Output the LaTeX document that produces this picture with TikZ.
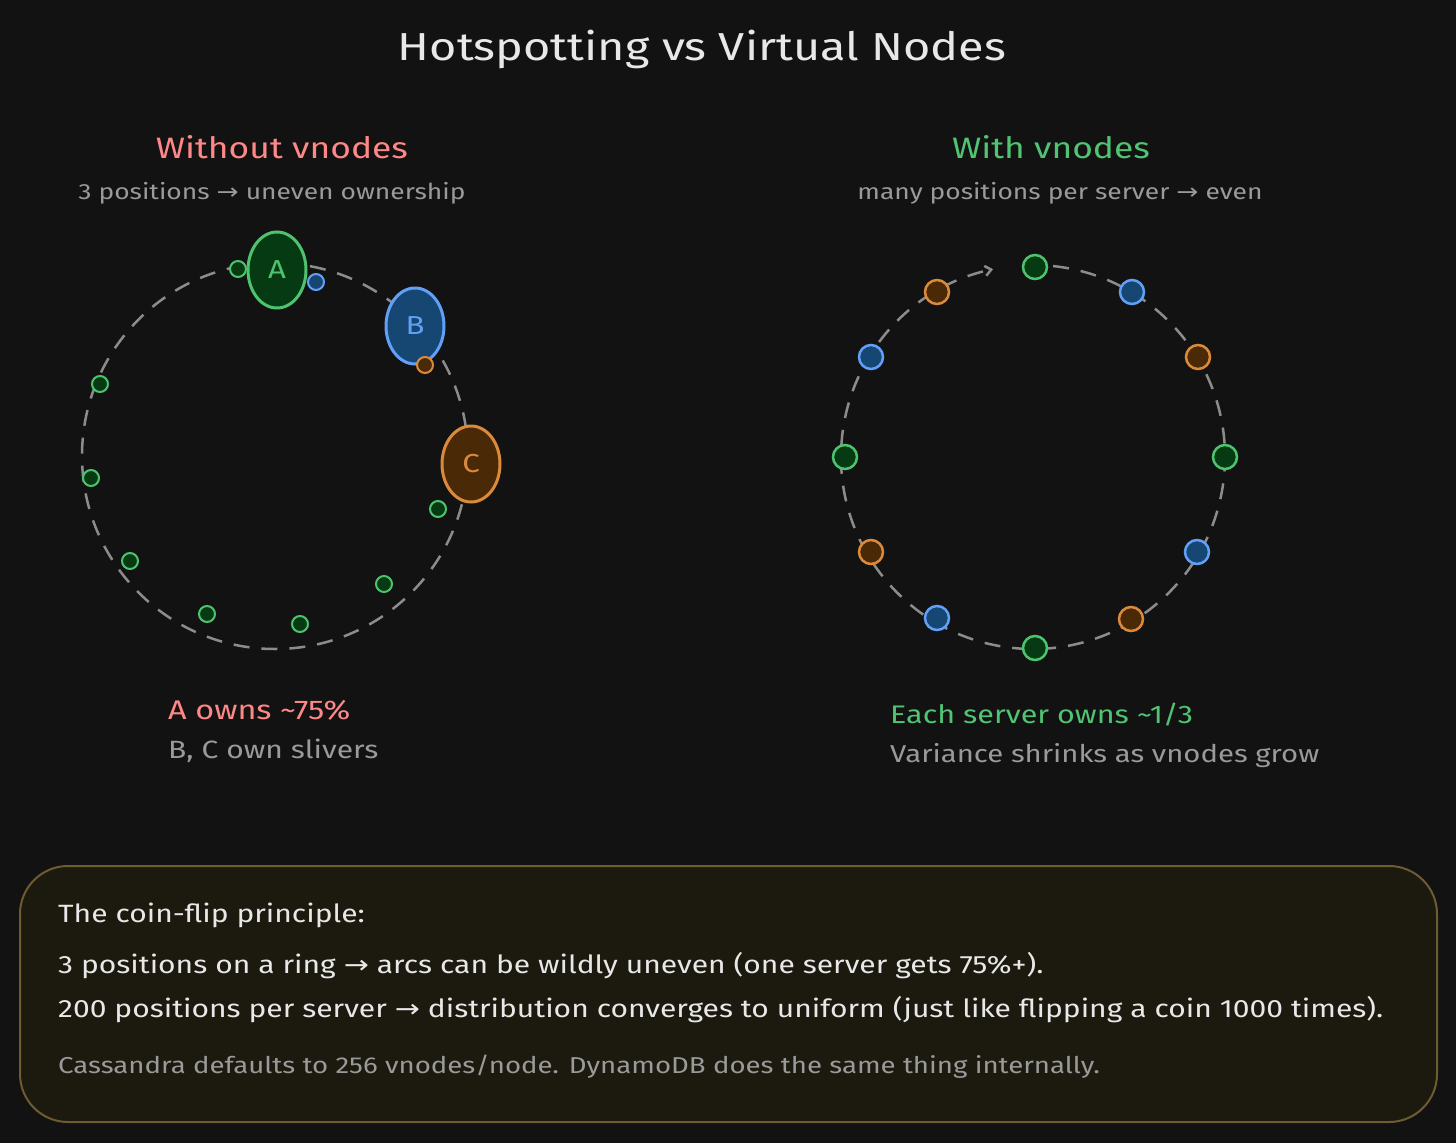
\documentclass[tikz,border=0pt]{standalone}
\usepackage{fontspec}
\setmainfont[FakeStretch=1.2]{Fira Sans}
\newfontfamily\symfont[FakeStretch=1.2]{DejaVu Sans}
\newcommand\arr{{\symfont →}}
\usetikzlibrary{shapes.geometric,arrows.meta}
\definecolor{bg}{HTML}{121212}
\definecolor{titlec}{HTML}{E8E8E8}
\definecolor{redt}{HTML}{FF8787}
\definecolor{greent}{HTML}{51C473}
\definecolor{grayt}{HTML}{9A9A9A}
\definecolor{ringc}{HTML}{8C8C8C}
\definecolor{gstroke}{HTML}{4EC36F}
\definecolor{gfill}{HTML}{053A12}
\definecolor{bstroke}{HTML}{62A0F7}
\definecolor{bfill}{HTML}{164672}
\definecolor{ostroke}{HTML}{DB8A3C}
\definecolor{ofill}{HTML}{4A2A06}
\definecolor{boxfill}{HTML}{1C190E}
\definecolor{boxline}{HTML}{6E5C30}
\tikzset{
  ring/.style={draw=ringc, line width=2.5pt, dash pattern=on 16pt off 12pt},
  big/.style={ellipse, line width=3pt, minimum width=58pt, minimum height=76pt, inner sep=0pt, font=\fontsize{26}{30}\selectfont},
  gbig/.style={big, draw=gstroke, fill=gfill, text=gstroke},
  bbig/.style={big, draw=bstroke, fill=bfill, text=bstroke},
  obig/.style={big, draw=ostroke, fill=ofill, text=ostroke},
  dotg/.style={circle, draw=gstroke, fill=gfill, line width=2pt, minimum size=16pt, inner sep=0pt},
  dotb/.style={circle, draw=bstroke, fill=bfill, line width=2pt, minimum size=16pt, inner sep=0pt},
  doto/.style={circle, draw=ostroke, fill=ofill, line width=2pt, minimum size=16pt, inner sep=0pt},
  vg/.style={dotg, minimum size=24pt, line width=2.5pt},
  vb/.style={dotb, minimum size=24pt, line width=2.5pt},
  vo/.style={doto, minimum size=24pt, line width=2.5pt},
  lbl/.style={inner sep=0pt, anchor=base},
  lblw/.style={inner sep=0pt, anchor=base west},
}
\begin{document}
\begin{tikzpicture}[x=1pt,y=-1pt]
\fill[bg] (0,0) rectangle (1456,1143);
\useasboundingbox (0,0) rectangle (1456,1143);

% title
\node[lbl, text=titlec, font=\fontsize{39}{44}\selectfont] (title) at (702,60) {Hotspotting vs Virtual Nodes};

% left column headings
\node[lbl, text=redt, font=\fontsize{29.5}{34}\selectfont] (lhead) at (282,158) {Without vnodes};
\node[lbl, text=grayt, font=\fontsize{22}{27}\selectfont] (lsub) at (272,199) {3 positions \arr\ uneven ownership};

% right column headings
\node[lbl, text=greent, font=\fontsize{29.5}{34}\selectfont] (rhead) at (1051,158) {With vnodes};
\node[lbl, text=grayt, font=\fontsize{22}{27}\selectfont] (rsub) at (1060,199) {many positions per server \arr\ even};

% left ring
\coordinate (lc) at (275,456);
\draw[ring] (lc) circle[radius=193pt];
\node[dotg] (l1) at (238,269) {};
\node[dotb] (l2) at (316,282) {};
\node[gbig] (A) at (277,270) {A};
\node[bbig] (B) at (415,326) {B};
\node[doto] (l3) at (425,365) {};
\node[obig] (C) at (471,464) {C};
\node[dotg] (l4) at (100,384) {};
\node[dotg] (l5) at (91,478) {};
\node[dotg] (l6) at (130,561) {};
\node[dotg] (l7) at (207,614) {};
\node[dotg] (l8) at (300,624) {};
\node[dotg] (l9) at (384,584) {};
\node[dotg] (l10) at (438,509) {};

% right ring
\coordinate (rc) at (1033,457);
\draw[ring, -{Straight Barb[length=6pt,width=10pt,line width=2.5pt]}] (rc) ++(84:192pt) arc[start angle=84, end angle=-258, radius=192pt];
\node[vg] (r0) at (1035,267) {};
\node[vb] (r1) at (1132,292) {};
\node[vo] (r2) at (1198,357) {};
\node[vg] (r3) at (1225,457) {};
\node[vb] (r4) at (1197,552) {};
\node[vo] (r5) at (1131,619) {};
\node[vg] (r6) at (1035,648) {};
\node[vb] (r7) at (937,618) {};
\node[vo] (r8) at (871,552) {};
\node[vg] (r9) at (845,457) {};
\node[vb] (r10) at (871,357) {};
\node[vo] (r11) at (937,292) {};

% captions
\node[lblw, text=redt, font=\fontsize{27}{32}\selectfont] (cap1) at (168,719) {A owns \textasciitilde75\%};
\node[lblw, text=grayt, font=\fontsize{25}{30}\selectfont] (cap2) at (168,758) {B, C own slivers};
\node[lblw, text=greent, font=\fontsize{25.4}{30}\selectfont] (cap3) at (890,723) {Each server owns \textasciitilde1/3};
\node[lblw, text=grayt, font=\fontsize{24.4}{30}\selectfont] (cap4) at (890,762) {Variance shrinks as vnodes grow};

% bottom box
\draw[draw=boxline, fill=boxfill, line width=2pt, rounded corners=48pt] (20,866) rectangle (1437,1122);
\node[lblw, text=titlec, font=\fontsize{25}{30}\selectfont] (b1) at (58,922) {The coin-flip principle:};
\node[lblw, text=titlec, font=\fontsize{25}{30}\selectfont] (b2) at (58,973) {3 positions on a ring \arr\ arcs can be wildly uneven (one server gets 75\%+).};
\node[lblw, text=titlec, font=\fontsize{25}{30}\selectfont] (b3) at (58,1017) {200 positions per server \arr\ distribution converges to uniform (just like flipping a coin 1000 times).};
\node[lblw, text=grayt, font=\fontsize{23}{27}\selectfont] (b4) at (58,1073) {Cassandra defaults to 256 vnodes/node. DynamoDB does the same thing internally.};
\end{tikzpicture}
\end{document}
